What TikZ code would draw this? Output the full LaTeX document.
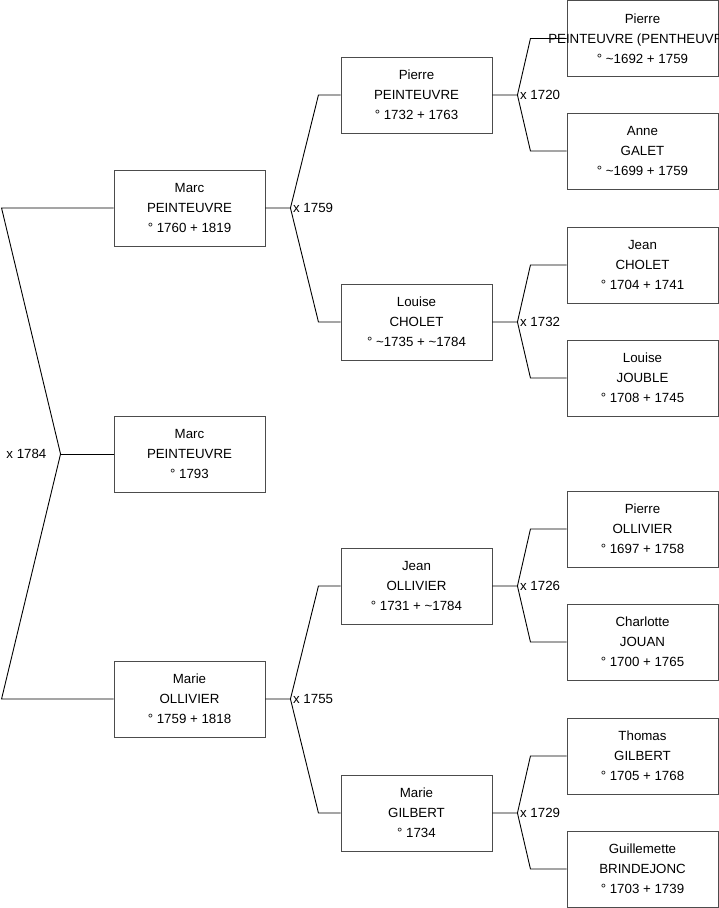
\documentclass[tikz,border=0pt]{standalone}
\usepackage{fontspec}
\setmainfont{Liberation Sans}
\usetikzlibrary{positioning,calc}

\begin{document}
\begin{tikzpicture}[x=1pt,y=-1pt,
  person/.style={draw=black!70,line width=0.9pt,minimum width=151pt,minimum height=76pt,inner sep=0pt,align=center,font=\fontsize{13.3}{20}\selectfont},
  link/.style={draw=black,line width=0.9pt},
  wed/.style={inner sep=1pt,font=\fontsize{13.3}{16}\selectfont}]
\useasboundingbox (0,0) rectangle (719,908);
% children
\node[person] (marc) at (189.5,208) {Marc\\PEINTEUVRE\\° 1760 + 1819};
\node[person] (marcjr) at (189.5,454) {Marc\\PEINTEUVRE\\° 1793};
\node[person] (marie) at (189.5,699) {Marie\\OLLIVIER\\° 1759 + 1818};
% parents
\node[person] (pierre) at (416.5,95) {Pierre\\PEINTEUVRE\\° 1732 + 1763};
\node[person] (louise) at (416.5,322) {Louise\\CHOLET\\° \textasciitilde1735 + \textasciitilde1784};
\node[person] (jean) at (416.5,586) {Jean\\OLLIVIER\\° 1731 + \textasciitilde1784};
\node[person] (mariegb) at (416.5,813) {Marie\\GILBERT\\° 1734};
% grandparents
\node[person] (pierreg) at (642.5,38.5) {Pierre\\\makebox[0pt]{PEINTEUVRE (PENTHEUVRE)}\\° \textasciitilde1692 + 1759};
\node[person] (anne) at (642.5,151) {Anne\\GALET\\° \textasciitilde1699 + 1759};
\node[person] (jeanc) at (642.5,265) {Jean\\CHOLET\\° 1704 + 1741};
\node[person] (louisej) at (642.5,378) {Louise\\JOUBLE\\° 1708 + 1745};
\node[person] (pierreo) at (642.5,529) {Pierre\\OLLIVIER\\° 1697 + 1758};
\node[person] (charlotte) at (642.5,642) {Charlotte\\JOUAN\\° 1700 + 1765};
\node[person] (thomas) at (642.5,756) {Thomas\\GILBERT\\° 1705 + 1768};
\node[person] (guillemette) at (642.5,869) {Guillemette\\BRINDEJONC\\° 1703 + 1739};
% marriages
\coordinate (vroot) at ($(marcjr.west)+(-53,0)$);
\coordinate (ctop) at ($(marc.west)+(-112,0)$);
\coordinate (cbot) at ($(marie.west)+(-112,0)$);
\draw[link] (marc.west) -- (ctop) -- (vroot) -- (cbot) -- (marie.west);
\draw[link] (vroot) -- (marcjr.west);
\node[wed,anchor=east] (wroot) at ($(vroot)+(-13,0)$) {x 1784};
\foreach \kid/\pa/\ma/\yr/\d in {marc/pierre/louise/1759/28,marie/jean/mariegb/1755/28,
  pierre/pierreg/anne/1720/13,louise/jeanc/louisej/1732/13,
  jean/pierreo/charlotte/1726/13,mariegb/thomas/guillemette/1729/13}{
  \coordinate (v\kid) at ($(\kid.east)+(25,0)$);
  \draw[link] (\kid.east) -- (v\kid) -- ($(v\kid |- \pa.west)+(\d,0)$) -- (\pa.west);
  \draw[link] (v\kid) -- ($(v\kid |- \ma.west)+(\d,0)$) -- (\ma.west);
  \node[wed,anchor=west] (w\kid) at ($(v\kid)+(1.5,0)$) {x \yr};
}
\end{tikzpicture}
\end{document}
